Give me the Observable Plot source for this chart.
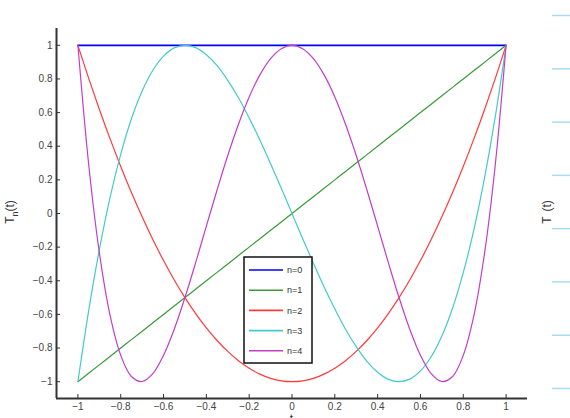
<!DOCTYPE html>
<html>
<head>
<meta charset="utf-8">
<script src="https://cdn.jsdelivr.net/npm/d3@7"></script>
<script src="https://cdn.jsdelivr.net/npm/@observablehq/plot@0.6"></script>
<style>
  html, body { margin: 0; padding: 0; background: #fff; }
  #wrap { position: relative; width: 570px; height: 418px; overflow: hidden; font-family: "Liberation Sans", Arial, sans-serif; }
  #wrap > * { position: absolute; }
</style>
</head>
<body>
<div id="wrap"></div>
<script>
// Sample points t
const tValues = [-1, -0.95, -0.9, -0.85, -0.8, -0.75, -0.7, -0.65, -0.6, -0.55, -0.5, -0.45, -0.4, -0.35, -0.3, -0.25, -0.2, -0.15, -0.1, -0.05, 0,
  0.05, 0.1, 0.15, 0.2, 0.25, 0.3, 0.35, 0.4, 0.45, 0.5, 0.55, 0.6, 0.65, 0.7, 0.75, 0.8, 0.85, 0.9, 0.95, 1];

const T0 = [1,1,1,1,1,1,1,1,1,1,1,1,1,1,1,1,1,1,1,1,1,1,1,1,1,1,1,1,1,1,1,1,1,1,1,1,1,1,1,1,1];
const T1 = [-1, -0.95, -0.9, -0.85, -0.8, -0.75, -0.7, -0.65, -0.6, -0.55, -0.5, -0.45, -0.4, -0.35, -0.3, -0.25, -0.2, -0.15, -0.1, -0.05, 0,
  0.05, 0.1, 0.15, 0.2, 0.25, 0.3, 0.35, 0.4, 0.45, 0.5, 0.55, 0.6, 0.65, 0.7, 0.75, 0.8, 0.85, 0.9, 0.95, 1];
const T2 = [1, 0.805, 0.62, 0.445, 0.28, 0.125, -0.02, -0.155, -0.28, -0.395, -0.5, -0.595, -0.68, -0.755, -0.82, -0.875, -0.92, -0.955, -0.98, -0.995, -1,
  -0.995, -0.98, -0.955, -0.92, -0.875, -0.82, -0.755, -0.68, -0.595, -0.5, -0.395, -0.28, -0.155, -0.02, 0.125, 0.28, 0.445, 0.62, 0.805, 1];
const T3 = [-1, -0.58, -0.216, 0.094, 0.352, 0.563, 0.728, 0.852, 0.936, 0.985, 1, 0.986, 0.944, 0.879, 0.792, 0.688, 0.568, 0.437, 0.296, 0.15, 0,
  -0.15, -0.296, -0.437, -0.568, -0.688, -0.792, -0.879, -0.944, -0.986, -1, -0.985, -0.936, -0.852, -0.728, -0.563, -0.352, -0.094, 0.216, 0.58, 1];
const T4 = [1, 0.296, -0.231, -0.604, -0.843, -0.969, -0.999, -0.952, -0.843, -0.688, -0.5, -0.292, -0.075, 0.14, 0.345, 0.531, 0.693, 0.824, 0.921, 0.98, 1,
  0.98, 0.921, 0.824, 0.693, 0.531, 0.345, 0.14, -0.075, -0.292, -0.5, -0.688, -0.843, -0.952, -0.999, -0.969, -0.843, -0.604, -0.231, 0.296, 1];

const seriesNames = ["n=0", "n=1", "n=2", "n=3", "n=4"];
const seriesValues = [T0, T1, T2, T3, T4];
const seriesColors = ["#0000ff", "#3a9a3a", "#ff3a3a", "#44caca", "#c23ec8"];

const xTicks = [-1, -0.8, -0.6, -0.4, -0.2, 0, 0.2, 0.4, 0.6, 0.8, 1];
const yTicks = [-1, -0.8, -0.6, -0.4, -0.2, 0, 0.2, 0.4, 0.6, 0.8, 1];
const rightTicks = [0, 1, 2, 3, 4, 5, 6, 7];

const rows = [];
seriesValues.forEach((vals, i) => vals.forEach((v, j) => rows.push({t: tValues[j], v, n: seriesNames[i]})));

const axisColor = "#333";
const labelColor = "#444";
const fmt = d3.format("");

const main = Plot.plot({
  width: 570, height: 418,
  marginLeft: 56, marginTop: 28, marginRight: 43, marginBottom: 20,
  style: {fontFamily: '"Liberation Sans", Arial, sans-serif', fontSize: "10px", background: "white", color: labelColor},
  x: {domain: [-1.1, 1.1]},
  y: {domain: [-1.1, 1.1]},
  marks: [
    ...seriesNames.map((name, i) => Plot.line(rows.filter(d => d.n === name), {
      x: "t", y: "v", stroke: seriesColors[i], strokeWidth: i === 0 ? 1.8 : 1.2, curve: "catmull-rom"
    })),
    Plot.axisX(xTicks, {tickSize: -4, tickPadding: 8, stroke: axisColor, fill: labelColor, label: null, tickFormat: fmt}),
    Plot.axisY(yTicks, {tickSize: -4, tickPadding: 8, stroke: axisColor, fill: labelColor, label: null, tickFormat: fmt}),
    Plot.ruleX([-1.1], {stroke: axisColor, strokeWidth: 2}),
    Plot.ruleY([-1.1], {stroke: axisColor, strokeWidth: 2})
  ]
});
const wrap = document.getElementById("wrap");
main.style.left = "0px"; main.style.top = "0px";
wrap.appendChild(main);

const svg = d3.select(main);
// y label T_n(t)
function addYLabel(x, y, withSub) {
  const t = svg.append("text")
    .attr("transform", `translate(${x},${y}) rotate(-90)`)
    .attr("text-anchor", "middle")
    .attr("fill", "#333")
    .attr("font-size", 12)
    .attr("font-family", '"Liberation Sans", Arial, sans-serif');
  t.append("tspan").text("T");
  if (withSub) {
    t.append("tspan").attr("font-size", 9).attr("dy", 4).text("n");
    t.append("tspan").attr("dy", -4).text("(t)");
  } else {
    t.append("tspan").attr("dx", 5).text("(t)");
  }
}
addYLabel(14, 212, true);
addYLabel(551, 212, false);
// x label (mostly cut off at the bottom, as in the reference)
svg.append("text").attr("x", 291.5).attr("y", 423).attr("text-anchor", "middle")
  .attr("fill", "#333").attr("font-size", 12).attr("font-family", '"Liberation Sans", Arial, sans-serif').text("t");

// Neighbouring chart's light-blue ticks at right edge
const side = Plot.plot({
  width: 18, height: 418,
  marginLeft: 0, marginRight: 0, marginTop: 15, marginBottom: 30,
  x: {axis: null}, y: {axis: null, domain: [0, 7]},
  style: {background: "transparent"},
  marks: [Plot.ruleY(rightTicks, {stroke: "#a9dbf3", strokeWidth: 1.5})]
});
side.style.left = "552px"; side.style.top = "0px";
wrap.appendChild(side);

// Legend
const leg = d3.select(wrap).append("svg")
  .attr("width", 70).attr("height", 108)
  .style("left", "243px").style("top", "256px");
leg.append("rect").attr("x", 1).attr("y", 1).attr("width", 68).attr("height", 106)
  .attr("fill", "white").attr("stroke", "#111").attr("stroke-width", 1.5);
seriesNames.forEach((name, i) => {
  const cy = 14 + i * 20.2;
  leg.append("line").attr("x1", 6).attr("x2", 40).attr("y1", cy).attr("y2", cy)
    .attr("stroke", seriesColors[i]).attr("stroke-width", 1.6);
  leg.append("text").attr("x", 44).attr("y", cy).attr("dy", "0.35em")
    .attr("font-size", 9).attr("fill", "#333")
    .attr("font-family", '"Liberation Sans", Arial, sans-serif').text(name);
});
</script>
</body>
</html>
